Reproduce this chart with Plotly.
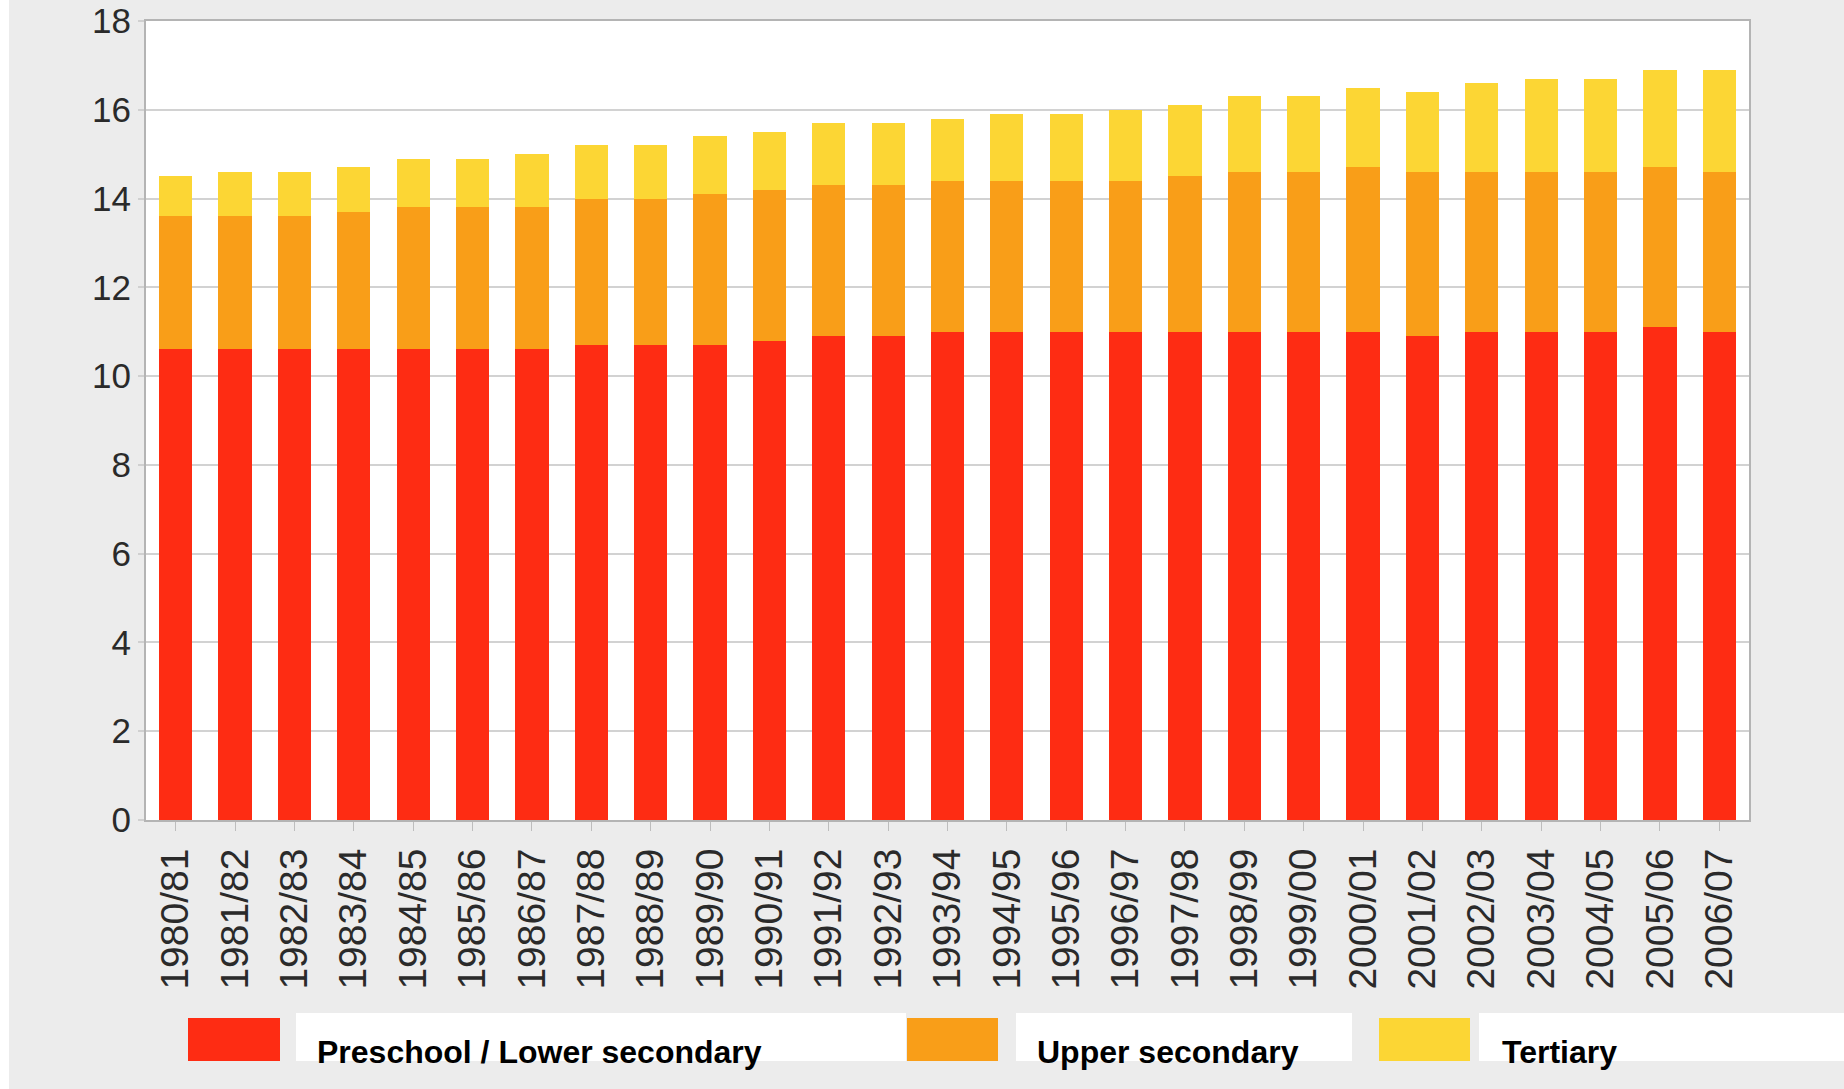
import plotly.graph_objects as go

# School years shown on the category axis
years = ["1980/81", "1981/82", "1982/83", "1983/84", "1984/85", "1985/86", "1986/87",
         "1987/88", "1988/89", "1989/90", "1990/91", "1991/92", "1992/93", "1993/94",
         "1994/95", "1995/96", "1996/97", "1997/98", "1998/99", "1999/00", "2000/01",
         "2001/02", "2002/03", "2003/04", "2004/05", "2005/06", "2006/07"]

# Expected years of schooling by level (stacked)
preschool_lower = [10.6, 10.6, 10.6, 10.6, 10.6, 10.6, 10.6, 10.7, 10.7, 10.7, 10.8, 10.9, 10.9, 11.0,
                   11.0, 11.0, 11.0, 11.0, 11.0, 11.0, 11.0, 10.9, 11.0, 11.0, 11.0, 11.1, 11.0]
upper_secondary = [3.0, 3.0, 3.0, 3.1, 3.2, 3.2, 3.2, 3.3, 3.3, 3.4, 3.4, 3.4, 3.4, 3.4,
                   3.4, 3.4, 3.4, 3.5, 3.6, 3.6, 3.7, 3.7, 3.6, 3.6, 3.6, 3.6, 3.6]
tertiary = [0.9, 1.0, 1.0, 1.0, 1.1, 1.1, 1.2, 1.2, 1.2, 1.3, 1.3, 1.4, 1.4, 1.4,
            1.5, 1.5, 1.6, 1.6, 1.7, 1.7, 1.8, 1.8, 2.0, 2.1, 2.1, 2.2, 2.3]

series_names = ["Preschool / Lower secondary", "Upper secondary", "Tertiary"]
series_values = [preschool_lower, upper_secondary, tertiary]
series_colors = ["#FE2C13", "#F99E18", "#FCD634"]

y_ticks = [0, 2, 4, 6, 8, 10, 12, 14, 16, 18]

W, H = 1844, 1089
L, R, T, B = 146, 95, 21, 269
PW, PH = W - L - R, H - T - B


def px_x(x):
    """Pixel column -> paper x."""
    return (x - L) / PW


def px_y(y):
    """Pixel row -> paper y."""
    return (H - B - y) / PH


fig = go.Figure()
for name, vals, col in zip(series_names, series_values, series_colors):
    fig.add_trace(go.Bar(x=years, y=vals, name=name, marker=dict(color=col, line=dict(width=0)),
                         showlegend=False))

shapes = []
annotations = []

# Thin white strip along the left edge of the page
shapes.append(dict(type="rect", xref="paper", yref="paper", layer="below",
                   x0=px_x(0), x1=px_x(9), y0=px_y(H), y1=px_y(0),
                   fillcolor="white", line=dict(width=0)))

# Legend: colour swatch + white label panel + bold text
legend_items = [
    # swatch x0, x1, panel x0, x1, text x
    (188, 280, 296, 906, 315),
    (907, 998, 1016, 1352, 1035),
    (1379, 1470, 1479, 1844, 1500),
]
for (sx0, sx1, bx0, bx1, tx), name, col in zip(legend_items, series_names, series_colors):
    shapes.append(dict(type="rect", xref="paper", yref="paper",
                       x0=px_x(bx0), x1=px_x(bx1), y0=px_y(1061), y1=px_y(1013),
                       fillcolor="white", line=dict(width=0)))
    shapes.append(dict(type="rect", xref="paper", yref="paper",
                       x0=px_x(sx0), x1=px_x(sx1), y0=px_y(1061), y1=px_y(1018),
                       fillcolor=col, line=dict(width=0)))
    annotations.append(dict(xref="paper", yref="paper", x=px_x(tx), y=px_y(1052),
                            xanchor="left", yanchor="middle", showarrow=False,
                            text="<b>%s</b>" % name,
                            font=dict(family="Liberation Sans, Arial, sans-serif", size=32,
                                      color="#000000")))

fig.update_layout(
    width=W, height=H,
    margin=dict(l=L, r=R, t=T, b=B, pad=0),
    barmode="stack",
    bargap=0.44,
    paper_bgcolor="#ECECEC",
    plot_bgcolor="#FFFFFF",
    font=dict(family="Liberation Sans, Arial, sans-serif", color="#2a2a2a"),
    shapes=shapes,
    annotations=annotations,
    showlegend=False,
)

fig.update_xaxes(
    type="category",
    automargin=False,
    tickangle=-90,
    tickfont=dict(size=39, color="#2a2a2a"),
    ticks="outside", ticklen=9, tickcolor="#BDBDBD", tickwidth=1,
    ticklabelstandoff=2,
    showline=True, linecolor="#B4B4B4", linewidth=2, mirror=True,
    showgrid=False,
)

fig.update_yaxes(
    automargin=False,
    range=[0, 18],
    tickvals=y_ticks,
    tickfont=dict(size=35, color="#2a2a2a"),
    ticks="outside", ticklen=6, tickcolor="#D0D0D0", tickwidth=2,
    ticklabelstandoff=0,
    showline=True, linecolor="#B4B4B4", linewidth=2, mirror=True,
    showgrid=True, gridcolor="#D2D2D2", gridwidth=2,
    zeroline=False,
)

fig.write_html("out.html")
